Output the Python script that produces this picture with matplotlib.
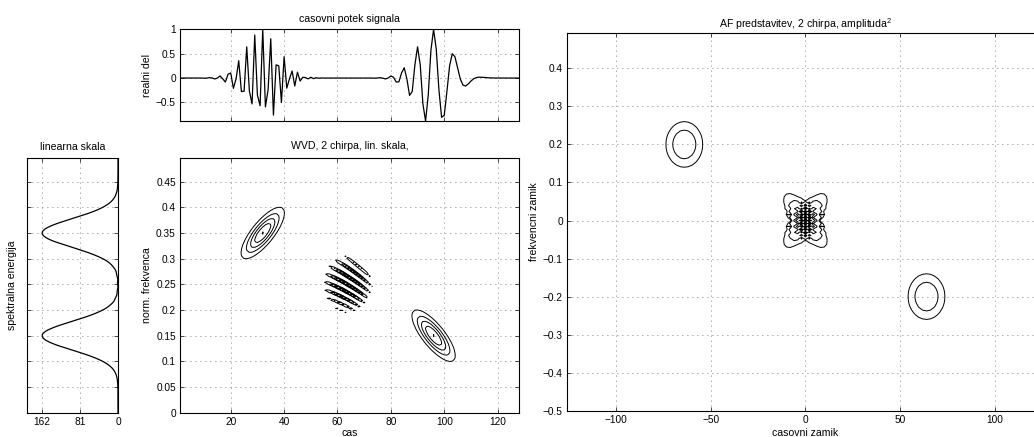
import numpy as np
import matplotlib
matplotlib.use('Agg')
import matplotlib.pyplot as plt
from matplotlib.ticker import FuncFormatter

plt.rcParams['font.family'] = ['Liberation Sans', 'DejaVu Sans']
plt.rcParams['font.size'] = 7.6
plt.rcParams['xtick.labelsize'] = 7.3
plt.rcParams['ytick.labelsize'] = 7.3
plt.rcParams['axes.titlesize'] = 7.6
plt.rcParams['axes.labelsize'] = 7.6
plt.rcParams['mathtext.fontset'] = 'custom'
plt.rcParams['mathtext.rm'] = 'Liberation Sans'
plt.rcParams['mathtext.it'] = 'Liberation Sans'

# ---- data (two Gaussian chirp atoms) ----
N = 128
atom_t0 = [32, 96]            # time centres
atom_f0 = [0.35, 0.15]        # normalised frequency centres
atom_rate = [0.0048, -0.0048] # chirp rates (freq / sample)
atom_T = [16, 16]             # Gaussian durations
wvd_levels = [0.2, 0.4, 0.6, 0.8, 0.995, 1.2, 1.4]          # relative to auto-term peak
af_levels = [0.05, 0.1, 0.2, 0.3, 0.4, 0.5, 0.6, 0.7, 0.8, 0.9]  # relative to |AF(0,0)|^2
spec_ticks = [0, 81, 162]
spec_ticklabels = ['0', '81', '162']
sig_yticks = [-0.5, 0, 0.5, 1]
wvd_xticks = [20, 40, 60, 80, 100, 120]
wvd_yticks = [0, 0.05, 0.1, 0.15, 0.2, 0.25, 0.3, 0.35, 0.4, 0.45]
af_xticks = [-100, -50, 0, 50, 100]
af_yticks = [-0.5, -0.4, -0.3, -0.2, -0.1, 0, 0.1, 0.2, 0.3, 0.4]

# ---- signal ----
t = np.arange(1, N + 1)
sig = np.zeros(N, complex)
for t0, f0, c, T in zip(atom_t0, atom_f0, atom_rate, atom_T):
    tau = t - t0
    sig += np.exp(-np.pi * (tau / T) ** 2) * np.exp(2j * np.pi * (f0 * tau + 0.5 * c * tau ** 2))


def tfrwv(x):
    n = len(x)
    tfr = np.zeros((n, n), complex)
    for ic in range(n):
        ti = ic + 1
        taumax = min(ti - 1, n - ti, round(n / 2) - 1)
        tau = np.arange(-taumax, taumax + 1)
        idx = (n + tau) % n
        tfr[idx, ic] = x[ic + tau] * np.conj(x[ic - tau])
        tau = round(n / 2)
        if ti <= n - tau and ti >= tau + 1:
            tfr[tau, ic] = 0.5 * (x[ic + tau] * np.conj(x[ic - tau]) + x[ic - tau] * np.conj(x[ic + tau]))
    return np.real(np.fft.fft(tfr, axis=0))


def ambifunb(x):
    n = len(x)
    taus = np.arange(-n // 2 + 1, n // 2)
    naf = np.zeros((n, len(taus)), complex)
    for ic, taui in enumerate(taus):
        a = abs(taui)
        tt = np.arange(a, n - a)
        naf[tt, ic] = x[tt + taui] * np.conj(x[tt - taui])
    naf = np.fft.fft(naf, axis=0)
    naf = np.concatenate([naf[n // 2:], naf[:n // 2]], axis=0)
    xi = np.arange(-n // 2, n // 2) / n
    return naf, 2 * taus, xi


wvd = tfrwv(sig)
wf = 0.5 * np.arange(N) / N
auto_peak = wvd[:, atom_t0[0] - 10:atom_t0[0] + 10].max()
af, lags, xi = ambifunb(sig)
af2 = np.abs(af) ** 2

NF = 1024
spec = np.abs(np.fft.fft(sig, NF)) ** 2
sf = np.arange(NF) / NF
keep = sf <= 0.5
spec = spec[keep]
sf = sf[keep]

# ---- figure ----
W, H = 1034, 437
fig = plt.figure(figsize=(W / 100, H / 100), dpi=100)


def pos(l, r, top, bot):
    return [l / W, 1 - bot / H, (r - l) / W, (bot - top) / H]


def fmt(v, p=None):
    s = '%g' % v
    return s.replace('-', '\u2212')


def style(ax):
    for s in ax.spines.values():
        s.set_linewidth(0.8)
    ax.tick_params(direction='in', top=True, right=True, length=3, width=0.5, pad=3)
    ax.grid(True, linestyle=(0, (1, 5)), color='0.35', linewidth=0.6)
    ax.set_axisbelow(True)


lw_c = 0.7

# signal
ax1 = fig.add_axes(pos(180, 519, 29.3, 121))
ax1.plot(t, sig.real, color='k', linewidth=0.9)
ax1.set_xlim(1, N)
ax1.set_ylim(sig.real.min(), sig.real.max())
ax1.set_xticks(wvd_xticks)
ax1.set_xticklabels([])
ax1.set_yticks(sig_yticks)
ax1.yaxis.set_major_formatter(FuncFormatter(fmt))
ax1.set_ylabel('realni del', labelpad=3)
ax1.set_title('casovni potek signala', pad=5.5)
style(ax1)

# spectrum
ax2 = fig.add_axes(pos(27, 118, 158, 412.7))
ax2.plot(spec, sf, color='k', linewidth=0.9)
ax2.set_xlim(1.2 * spec.max(), 0)
ax2.set_ylim(0, 0.5 * (N - 1) / N)
ax2.set_xticks(spec_ticks)
ax2.set_xticklabels(spec_ticklabels)
ax2.set_yticks(wvd_yticks)
ax2.set_yticklabels([])
ax2.set_ylabel('spektralna energija', labelpad=4)
ax2.set_title('linearna skala', pad=6)
style(ax2)

# WVD
ax3 = fig.add_axes(pos(180, 519, 158, 412.7))
ax3.contour(t, wf, wvd / auto_peak, levels=wvd_levels, colors='k', linewidths=lw_c)
ax3.set_xlim(1, N)
ax3.set_ylim(0, 0.5 * (N - 1) / N)
ax3.set_xticks(wvd_xticks)
ax3.set_yticks(wvd_yticks)
ax3.yaxis.set_major_formatter(FuncFormatter(fmt))
ax3.set_xlabel('cas', labelpad=1)
ax3.set_ylabel('norm. frekvenca', labelpad=3)
ax3.set_title('WVD, 2 chirpa, lin. skala,', pad=6.5)
style(ax3)

# AF
ax4 = fig.add_axes(pos(567, 1043.8, 33.3, 410.7))
ax4.contour(lags, xi, af2 / af2.max(), levels=af_levels, colors='k', linewidths=lw_c)
ax4.set_xlim(lags.min(), lags.max())
ax4.set_ylim(xi.min(), xi.max())
ax4.set_xticks(af_xticks)
ax4.set_yticks(af_yticks)
ax4.xaxis.set_major_formatter(FuncFormatter(fmt))
ax4.yaxis.set_major_formatter(FuncFormatter(fmt))
ax4.set_xlabel('casovni zamik', labelpad=2)
ax4.set_ylabel('frekvencni zamik', labelpad=3)
ax4.set_title('AF predstavitev, 2 chirpa, amplituda$^2$', pad=3.5)
style(ax4)

fig.savefig('out.png', dpi=100)
